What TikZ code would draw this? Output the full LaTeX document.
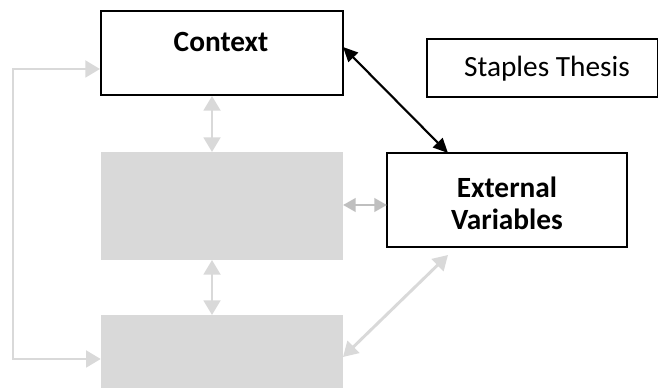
\documentclass[tikz,border=0pt]{standalone}
\usepackage{fontspec}
\setmainfont{Carlito}
\usetikzlibrary{arrows.meta}
\begin{document}
\begin{tikzpicture}[x=0.75pt,y=-0.75pt,
  box/.style={draw=black,line width=1.5pt,fill=white,inner sep=0pt},
  graybox/.style={fill=gray85,draw=none,inner sep=0pt},
  lg/.style={draw=gray85,line width=2.2pt,{Triangle[length=11pt,width=12.5pt]}-{Triangle[length=11pt,width=12.5pt]}},
  dg/.style={draw=gray75,line width=2.2pt,{Triangle[length=9.5pt,width=10pt]}-{Triangle[length=9.5pt,width=10pt]}},
  bk/.style={draw=black,line width=1.6pt,{Triangle[length=11pt,width=10pt]}-{Triangle[length=11pt,width=10pt]}},
  lbl/.style={font=\fontsize{22}{26}\selectfont,align=center}]
\definecolor{gray85}{HTML}{D9D9D9}
\definecolor{gray75}{HTML}{BFBFBF}
\clip (0,0) rectangle (658,388);
\useasboundingbox (0,0) rectangle (658,388);
\fill[white] (0,0) rectangle (658,388);
% boxes
\node[box,minimum width=181.5pt,minimum height=63pt] (ctx) at (222,53) {};
\node[lbl,font=\bfseries\fontsize{22}{26}\selectfont] (ctxt) at (221,42) {Context};
\node[box,minimum width=173.25pt,minimum height=43.5pt] (st) at (542,68) {};
\node[lbl] (stt) at (547,69) {Staples Thesis};
\node[box,minimum width=180pt,minimum height=70.5pt] (ev) at (507,200) {};
\node[lbl,font=\bfseries\fontsize{22}{24}\selectfont] (evt) at (507,203) {External\\Variables};
\node[graybox,minimum width=181.5pt,minimum height=81pt] (g1) at (222,206) {};
\node[graybox,minimum width=181.5pt,minimum height=81pt] (g2) at (222,369) {};
% coordinates
\coordinate (lt) at (13,69);
\coordinate (lb) at (13,359);
\coordinate (ctxl) at (ctx.west |- lt);
\coordinate (g2l) at (g2.west |- lb);
\coordinate (ctxb) at (212,96);
\coordinate (g1t) at (212,152);
\coordinate (g1b) at (212,260);
\coordinate (g2t) at (212,315);
\coordinate (g1r) at (343,205);
\coordinate (evl) at (387,205);
\coordinate (g2r) at (343,357);
\coordinate (evb) at (448,255);
\coordinate (ctxr) at (343,47);
\coordinate (evt2) at (448,153);
% connectors
\draw[lg] (ctxl) -- (lt) -- (lb) -- (g2l);
\draw[lg] (ctxb) -- (g1t);
\draw[lg] (g1b) -- (g2t);
\draw[dg] (g1r) -- (evl);
\draw[lg] (g2r) -- (evb);
\draw[bk] (ctxr) -- (evt2);
\end{tikzpicture}
\end{document}
